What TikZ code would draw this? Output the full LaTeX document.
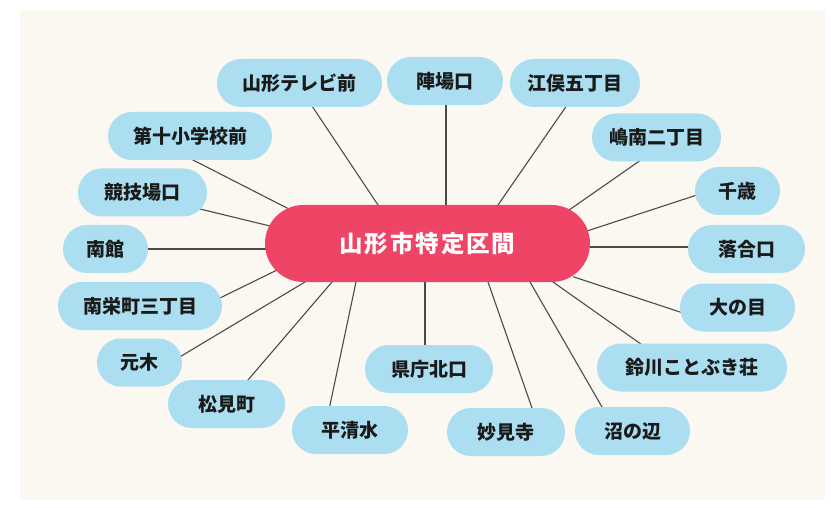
\documentclass[tikz,border=0pt]{standalone}
\usepackage{fontspec}
\newfontfamily\jp{Noto Sans CJK JP}
\usetikzlibrary{calc}
\pgfdeclarelayer{bg}
\pgfsetlayers{bg,main}
\definecolor{cream}{HTML}{FBF8F2}
\definecolor{stopblue}{HTML}{AADEF0}
\definecolor{hubred}{HTML}{EE4567}
\definecolor{txtdark}{HTML}{1A1A1A}
\definecolor{linkgray}{HTML}{4A4A4A}
\tikzset{
  stopbox/.style={fill=stopblue, rounded corners=23.9pt, minimum height=48pt, inner sep=0pt,
    text=txtdark, font=\jp\bfseries\fontsize{19}{19}\selectfont},
  hubbox/.style={fill=hubred, rounded corners=38.4pt, minimum width=325pt, minimum height=77pt,
    inner sep=0pt, text=white, font=\jp\bfseries\fontsize{23.5}{23.5}\selectfont},
  linkline/.style={draw=linkgray, line width=1.1pt, shorten <=-4pt, shorten >=-4pt}
}
\begin{document}
\begin{tikzpicture}[x=1pt,y=-1pt]
\useasboundingbox (0,0) rectangle (831,508);
\begin{pgfonlayer}{bg}
  \fill[white] (0,0) rectangle (831,508);
  \fill[cream] (20,10) rectangle (825,500);
\end{pgfonlayer}

\node[hubbox] (c) at (427.5,243.5) {\addfontfeatures{LetterSpace=8}山形市特定区間};

\node[stopbox, minimum width=165pt] (n1) at (299.5,83) {山形テレビ前};
\node[stopbox, minimum width=116pt] (n2) at (445,81) {陣場口};
\node[stopbox, minimum width=130pt] (n3) at (575,83) {江俣五丁目};
\node[stopbox, minimum width=164pt] (n4) at (190,136) {第十小学校前};
\node[stopbox, minimum width=129pt] (n5) at (656.5,137.5) {嶋南二丁目};
\node[stopbox, minimum width=129pt] (n6) at (142.5,192.5) {競技場口};
\node[stopbox, minimum width=85pt] (n7) at (737.5,191) {千歳};
\node[stopbox, minimum width=85pt] (n8) at (105.5,249) {南館};
\node[stopbox, minimum width=117pt] (n9) at (746.5,249) {落合口};
\node[stopbox, minimum width=164pt] (n10) at (140,306) {南栄町三丁目};
\node[stopbox, minimum width=115pt] (n11) at (737.5,307.5) {大の目};
\node[stopbox, minimum width=85pt] (n12) at (139.5,362.5) {元木};
\node[stopbox, minimum width=190pt] (n13) at (692,367.5) {鈴川ことぶき荘};
\node[stopbox, minimum width=128pt] (n14) at (429,369) {県庁北口};
\node[stopbox, minimum width=117pt] (n15) at (226.5,404) {松見町};
\node[stopbox, minimum width=116pt] (n16) at (350,430) {平清水};
\node[stopbox, minimum width=118pt] (n17) at (506,432) {妙見寺};
\node[stopbox, minimum width=115pt] (n18) at (632.5,431) {沼の辺};

\begin{pgfonlayer}{bg}
  \draw[linkline] ($(n1)+(12.5,23)$) -- ($(c)+(-49.5,-38.5)$);
  \draw[linkline] ($(n2)+(1,24)$) -- ($(c)+(18.5,-38.5)$);
  \draw[linkline] ($(n3)+(-10,25)$) -- ($(c)+(70.5,-38.5)$);
  \draw[linkline] ($(n4)+(3,24)$) -- ($(c)+(-140.5,-35.5)$);
  \draw[linkline] ($(n5)+(-18.5,24.5)$) -- ($(c)+(144.5,-35.5)$);
  \draw[linkline] ($(n6)+(57.5,16.5)$) -- ($(c)+(-157.5,-17.5)$);
  \draw[linkline] ($(n7)+(-40.5,4)$) -- ($(c)+(162.5,-13.5)$);
  \draw[linkline] ($(n8)+(42.5,0)$) -- ($(c)+(-162.5,5.5)$);
  \draw[linkline] ($(n9)+(-58.5,-2)$) -- ($(c)+(162.5,3.5)$);
  \draw[linkline] ($(n10)+(82,-9)$) -- ($(c)+(-154.5,28.5)$);
  \draw[linkline] ($(n11)+(-57.5,4.5)$) -- ($(c)+(149.5,34.5)$);
  \draw[linkline] ($(n12)+(43.5,-7.5)$) -- ($(c)+(-122.5,38.5)$);
  \draw[linkline] ($(n13)+(-54,-25.5)$) -- ($(c)+(125.5,38.5)$);
  \draw[linkline] ($(n14)+(-4,-24)$) -- ($(c)+(-2.5,38.5)$);
  \draw[linkline] ($(n15)+(21.5,-24)$) -- ($(c)+(-95.5,38.5)$);
  \draw[linkline] ($(n16)+(-20,-25)$) -- ($(c)+(-71.5,38.5)$);
  \draw[linkline] ($(n17)+(26,-24)$) -- ($(c)+(60.5,38.5)$);
  \draw[linkline] ($(n18)+(-30.5,-24)$) -- ($(c)+(102.5,38.5)$);
\end{pgfonlayer}
\end{tikzpicture}
\end{document}
